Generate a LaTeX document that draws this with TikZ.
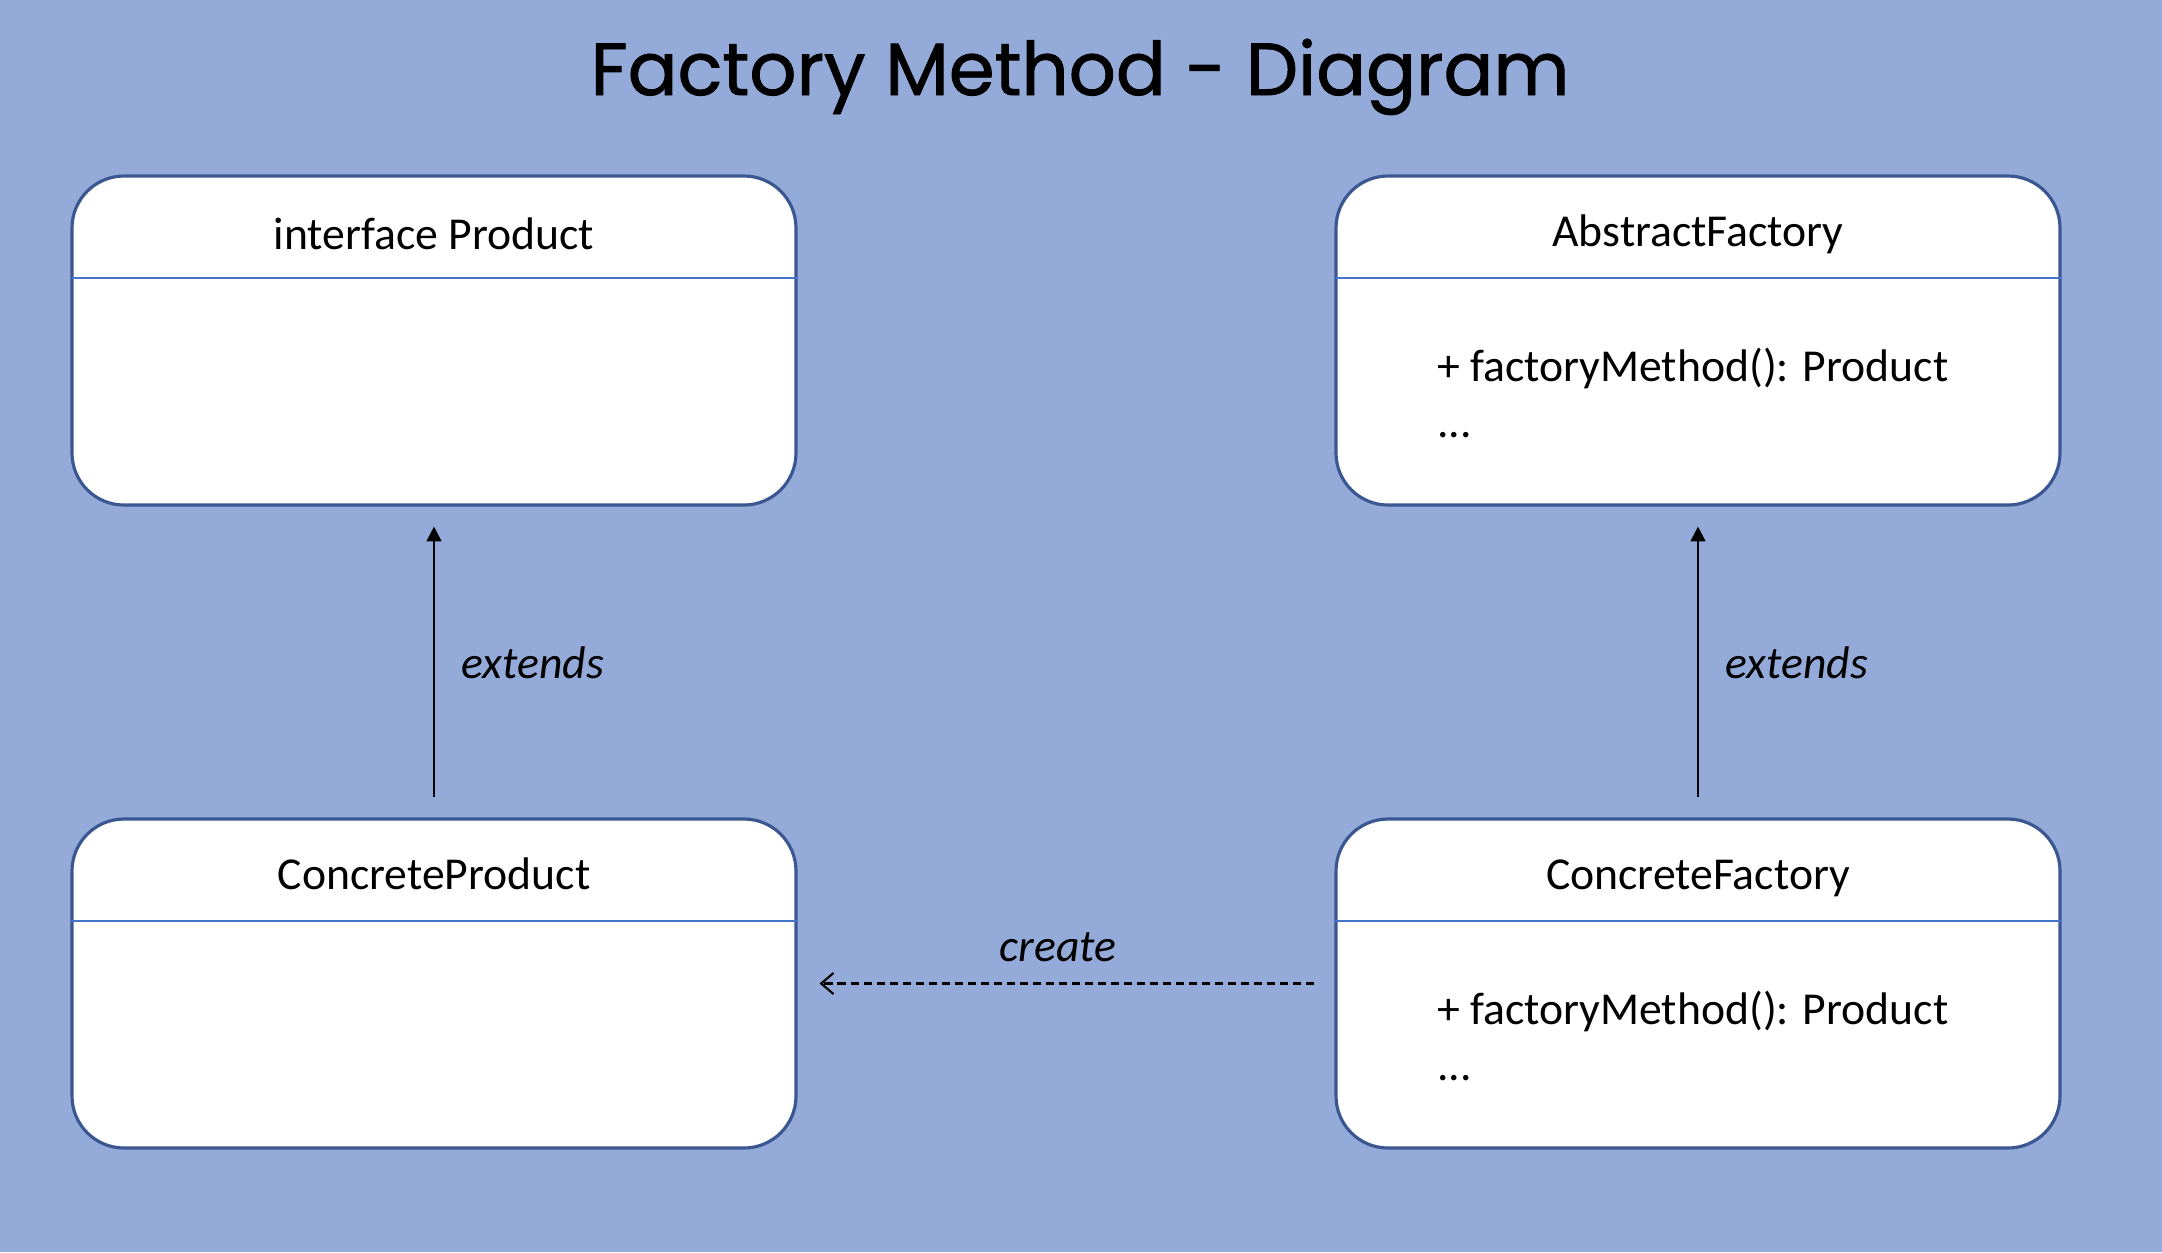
\documentclass[tikz,border=0pt]{standalone}
\usepackage{fontspec}
\setmainfont{Carlito}
\newfontfamily\titlefont[FakeBold=1.2]{Poppins}
\usetikzlibrary{arrows.meta}
\usetikzlibrary{positioning}
\usetikzlibrary{calc}
\definecolor{bgblue}{RGB}{148,170,217}
\definecolor{boxedge}{RGB}{59,87,145}
\definecolor{divline}{RGB}{68,114,196}
\tikzset{
	classbox/.style={draw=boxedge,line width=0.9pt,fill=white,rounded corners=5.2mm,minimum width=72.4mm,minimum height=32.9mm,inner sep=0pt},
	classname/.style={font=\fontsize{13}{15.6}\selectfont,inner sep=0pt,anchor=base},
	member/.style={font=\fontsize{13}{15.6}\selectfont,inner sep=0pt,anchor=base west},
	divider/.style={draw=divline,line width=0.6pt},
	relabel/.style={font=\fontsize{13}{15.6}\selectfont\itshape,inner sep=0pt},
	extarrow/.style={line width=0.65pt,-{Triangle[length=4.2pt,width=4.2pt]},shorten <=2mm,shorten >=2mm},
	usearrow/.style={line width=0.6pt,dash pattern=on 2.5pt off 1.2pt,-{Straight Barb[length=3.5pt,width=6pt]},shorten <=2mm,shorten >=2.2mm}
}
\begin{document}
\begin{tikzpicture}
	%BACKGROUND
	\fill[bgblue] (0,0) rectangle (21.62,-12.52);
	\useasboundingbox (0,0) rectangle (21.62,-12.52);
	%TITLE
	\node[font=\titlefont\fontsize{21}{25}\selectfont,inner sep=0pt,anchor=base] (title) at (10.80,-0.95) {Factory Method - Diagram};

	%PRODUCT SIDE
	\node[classbox] (prod) at (4.34,-3.405) {};
	  \draw[divider] ([yshift=-1.04cm]prod.north west) -- ([yshift=-1.04cm]prod.north east);
	  \node[classname] (prodname) at ([yshift=-0.75cm]prod.north) {interface Product};
	\node[classbox] (cprod) at (4.34,-9.835) {};
	  \draw[divider] ([yshift=-1.04cm]cprod.north west) -- ([yshift=-1.04cm]cprod.north east);
	  \node[classname] (cprodname) at ([yshift=-0.72cm]cprod.north) {ConcreteProduct};

	%FACTORY SIDE
	\node[classbox] (fac) at (16.98,-3.405) {};
	  \draw[divider] ([yshift=-1.04cm]fac.north west) -- ([yshift=-1.04cm]fac.north east);
	  \node[classname] (facname) at ([yshift=-0.72cm]fac.north) {AbstractFactory};
	  \node[member] (facm1) at ([xshift=1.02cm,yshift=-2.07cm]fac.north west) {+ factoryMethod(): Product};
	  \node[member] (facm2) at ([yshift=-0.56cm]facm1.base west) {...};
	\node[classbox] (cfac) at (16.98,-9.835) {};
	  \draw[divider] ([yshift=-1.04cm]cfac.north west) -- ([yshift=-1.04cm]cfac.north east);
	  \node[classname] (cfacname) at ([yshift=-0.72cm]cfac.north) {ConcreteFactory};
	  \node[member] (cfacm1) at ([xshift=1.02cm,yshift=-2.07cm]cfac.north west) {+ factoryMethod(): Product};
	  \node[member] (cfacm2) at ([yshift=-0.56cm]cfacm1.base west) {...};

	%RELATIONS
	\draw[extarrow] (cprod.north) -- (prod.south);
	\node[relabel,anchor=west] (ext1) at (4.61,-6.63) {extends};
	\draw[extarrow] (cfac.north) -- (fac.south);
	\node[relabel,anchor=west] (ext2) at (17.25,-6.63) {extends};
	\draw[usearrow] (cfac.west) -- (cprod.east);
	\node[relabel] (create) at (10.58,-9.47) {create};
\end{tikzpicture}
\end{document}
